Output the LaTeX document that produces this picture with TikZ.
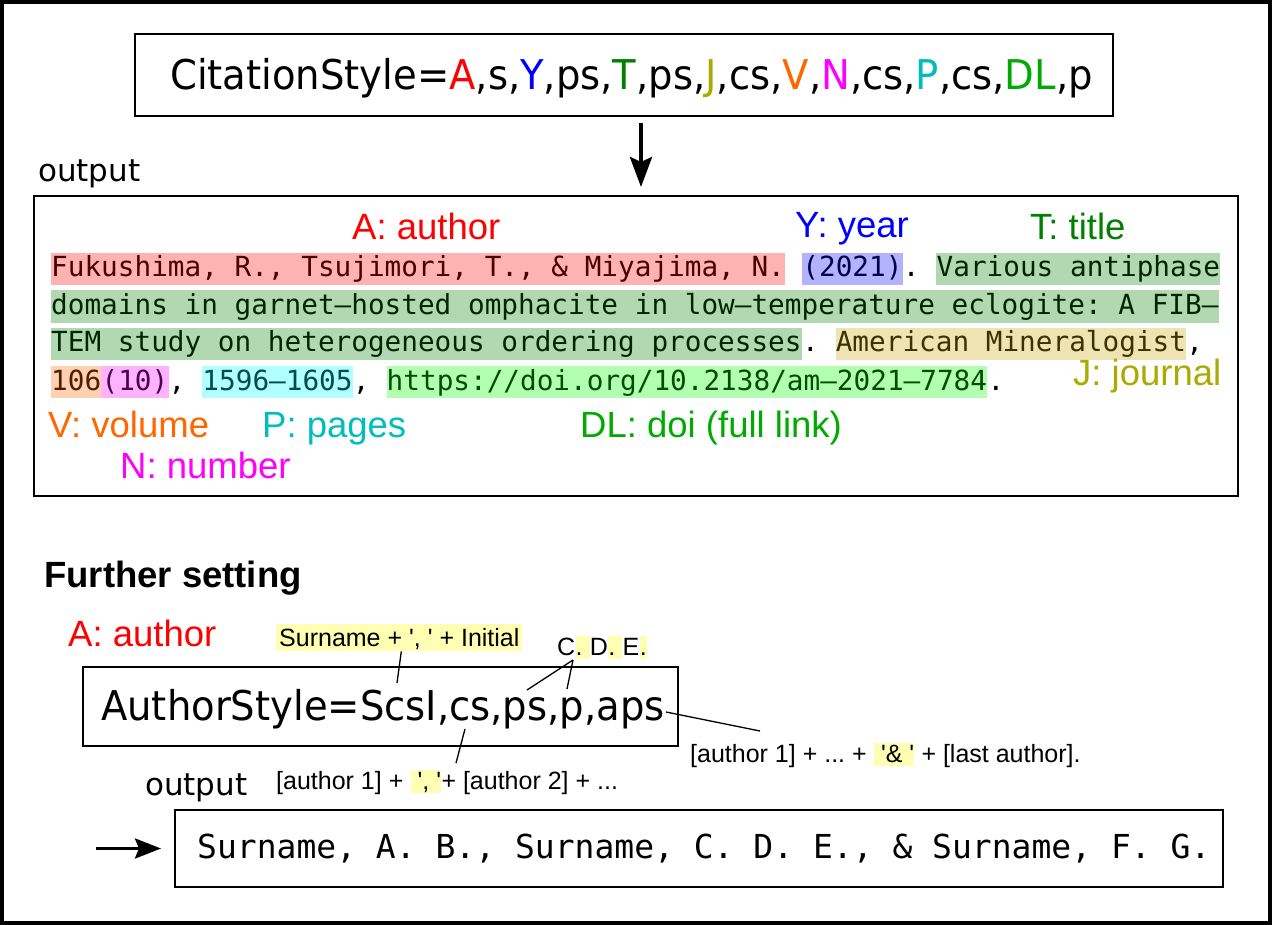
\documentclass[tikz,border=0pt]{standalone}
\usepackage{fontspec}
\setmainfont{Liberation Sans}
\setmonofont{DejaVu Sans Mono}
\newfontfamily\condsans[FakeStretch=0.94]{DejaVu Sans}
\newfontfamily\dvsans{DejaVu Sans}
\usetikzlibrary{arrows.meta}
\frenchspacing
\definecolor{cA}{RGB}{255,0,0}
\definecolor{cY}{RGB}{0,0,255}
\definecolor{cT}{RGB}{0,128,0}
\definecolor{cJ}{RGB}{170,170,0}
\definecolor{cV}{RGB}{255,102,0}
\definecolor{cN}{RGB}{255,0,255}
\definecolor{cP}{RGB}{0,190,190}
\definecolor{cDL}{RGB}{0,170,0}
\definecolor{hJ}{RGB}{200,165,0}
\definecolor{hP}{RGB}{0,255,255}
\definecolor{hDL}{RGB}{0,255,0}
\definecolor{ylwbg}{RGB}{255,255,179}
\newcommand{\hsp}{\ \null}
\begin{document}
\begin{tikzpicture}[x=1pt,y=-1pt,
  mono/.style={font=\fontsize{27.7}{30}\selectfont\ttfamily, inner sep=0pt, anchor=base west, text height=24pt, text depth=8pt},
  lbltxt/.style={font=\fontsize{36.5}{40}\selectfont, inner sep=0pt, anchor=base west},
  smalltxt/.style={font=\fontsize{25}{28}\selectfont, inner sep=0pt, anchor=base west},
  ylwdot/.style={fill=ylwbg, text height=19pt, text depth=4pt},
  boxed/.style={draw, line width=2pt, inner sep=0pt},
  hl/.style={fill=#1, fill opacity=0.3},
  bigarrow/.style={line width=4pt, -{Stealth[length=30pt,width=22pt,inset=5pt]}},
  botarrow/.style={line width=3.5pt, -{Stealth[length=26pt,width=20pt,inset=4pt]}},
  thinline/.style={line width=1.3pt}
]
\fill[white] (0,0) rectangle (1272,925);
\useasboundingbox (0,0) rectangle (1272,925);
\draw[line width=4pt] (2,2) rectangle (1270,923);

% top box
\node[boxed, line width=2.5pt, minimum width=978pt, minimum height=82pt] (citebox) at (624,75) {};
\node[anchor=base west, inner sep=0pt, font=\condsans\fontsize{41}{48}\selectfont] (citetext) at (170,90)
 {CitationStyle=\textcolor{cA}{A},s,\textcolor{cY}{Y},ps,\textcolor{cT}{T},ps,\textcolor{cJ}{J},cs,\textcolor{cV}{V},\textcolor{cN}{N},cs,\textcolor{cP}{P},cs,\textcolor{cDL}{DL},p};

\node[anchor=base west, inner sep=0pt, font=\dvsans\fontsize{31}{36}\selectfont] (out1) at (38,182) {output};
\node[boxed, minimum width=1204pt, minimum height=300pt] (outbox) at (636,346) {};
\draw[bigarrow, shorten <=6pt, shorten >=8pt] ([xshift=17pt]citebox.south) -- ([xshift=5pt]outbox.north);

% labels
\node[lbltxt, text=cA] (labA) at (352,240) {A: author};
\node[lbltxt, text=cY] (labY) at (795,238) {Y: year};
\node[lbltxt, text=cT] (labT) at (1030,240) {T: title};
\node[lbltxt, text=cJ] (labJ) at (1073,385) {J: journal};
\node[lbltxt, text=cV] (labV) at (48,437) {V: volume};
\node[lbltxt, text=cP] (labP) at (262,437) {P: pages};
\node[lbltxt, text=cDL] (labDL) at (580,437) {DL: doi (full link)};
\node[lbltxt, text=cN] (labN) at (120,478) {N: number};

% reference text rows
\node[mono] (r1a) at (51,277) {Fukushima, R., Tsujimori, T., \& Miyajima, N.};
\node[mono] (r1b) at (r1a.base east) {\hsp};
\node[mono] (r1c) at (r1b.base east) {(2021)};
\node[mono] (r1d) at (r1c.base east) {.\hsp};
\node[mono] (r1e) at (r1d.base east) {Various antiphase};

\node[mono] (r2a) at (51,314.5) {domains in garnet–hosted omphacite in low–temperature eclogite: A FIB–};

\node[mono] (r3a) at (51,352) {TEM study on heterogeneous ordering processes};
\node[mono] (r3b) at (r3a.base east) {.\hsp};
\node[mono] (r3c) at (r3b.base east) {American Mineralogist};
\node[mono] (r3d) at (r3c.base east) {,};

\node[mono] (r4a) at (51,390) {106};
\node[mono] (r4b) at (r4a.base east) {(10)};
\node[mono] (r4c) at (r4b.base east) {,\hsp};
\node[mono] (r4d) at (r4c.base east) {1596–1605};
\node[mono] (r4e) at (r4d.base east) {,\hsp};
\node[mono] (r4f) at (r4e.base east) {https://doi.org/10.2138/am–2021–7784};
\node[mono] (r4g) at (r4f.base east) {.};

\fill[hl=cA] (r1a.south west) rectangle (r1a.north east);
\fill[hl=cY] (r1c.south west) rectangle (r1c.north east);
\fill[hl=cT] (r1e.south west) rectangle (r1e.north east);
\fill[hl=cT] (r2a.south west) rectangle (r2a.north east);
\fill[hl=cT] (r3a.south west) rectangle (r3a.north east);
\fill[hl=hJ] (r3c.south west) rectangle (r3c.north east);
\fill[hl=cV] (r4a.south west) rectangle (r4a.north east);
\fill[hl=cN] (r4b.south west) rectangle (r4b.north east);
\fill[hl=hP] (r4d.south west) rectangle (r4d.north east);
\fill[hl=hDL] (r4f.south west) rectangle (r4f.north east);

% further setting
\node[lbltxt, font=\fontsize{36.5}{40}\selectfont\bfseries] (further) at (44,587) {Further setting};
\node[lbltxt, text=cA] (labA2) at (68,646) {A: author};
\node[smalltxt, fill=ylwbg, anchor=north west, inner xsep=3pt, text height=22pt, text depth=5pt] (sil) at (276,624)
 {Surname + \textquotesingle,\ \textquotesingle\ + Initial};

\node[smalltxt] (cdeC) at (557,655) {C};
\node[smalltxt, ylwdot] (cdeP1) at (cdeC.base east) {.\hsp};
\node[smalltxt] (cdeD) at (cdeP1.base east) {D};
\node[smalltxt, ylwdot] (cdeP2) at (cdeD.base east) {.\hsp};
\node[smalltxt] (cdeE) at (cdeP2.base east) {E};
\node[smalltxt, ylwdot] (cdeP3) at (cdeE.base east) {.};

\node[boxed, minimum width=595pt, minimum height=79pt] (authbox) at (380.5,706.5) {};
\node[anchor=base west, inner sep=0pt, font=\condsans\fontsize{41}{48}\selectfont] (authtext) at (101,720) {AuthorStyle=ScsI,cs,ps,p,aps};

\node[smalltxt] (csA) at (276,789) {[author 1] +\hsp};
\node[smalltxt, ylwdot] (csB) at (csA.base east) {\ \textquotesingle,\ \textquotesingle};
\node[smalltxt] (csC) at (csB.base east) {+ [author 2] + ...};

\node[smalltxt] (apsA) at (690,762) {[author 1] + ... +\hsp};
\node[smalltxt, ylwdot] (apsB) at (apsA.base east) {\ \textquotesingle\&\ \textquotesingle};
\node[smalltxt] (apsC) at (apsB.base east) {\ + [last author].};

% connectors
\coordinate (scsImark) at (397,683);
\draw[thinline] ([xshift=2pt]sil.south) -- (scsImark);
\coordinate (cdejoin) at (573,660);
\coordinate (psmark) at (527,690);
\coordinate (pmark) at (567,689);
\draw[thinline] (cdejoin) -- (psmark);
\draw[thinline] (cdejoin) -- (pmark);
\coordinate (csmark) at (465,729);
\coordinate (cslab) at (456,763);
\draw[thinline] (csmark) -- (cslab);
\coordinate (apsmark) at (666,712);
\coordinate (apslab) at (760,731);
\draw[thinline] (apsmark) -- (apslab);

% bottom output
\node[anchor=base west, inner sep=0pt, font=\dvsans\fontsize{31}{36}\selectfont] (out2) at (145,795) {output};
\node[boxed, minimum width=1048pt, minimum height=77pt] (botbox) at (699,848.5) {};
\node[anchor=base west, inner sep=0pt, font=\fontsize{33}{38}\selectfont\ttfamily] (bottext) at (197,858)
 {Surname, A. B., Surname, C. D. E., \& Surname, F. G.};
\coordinate (barrowstart) at (96,848.5);
\draw[botarrow, shorten >=13pt] (barrowstart) -- (botbox.west);
\end{tikzpicture}
\end{document}
